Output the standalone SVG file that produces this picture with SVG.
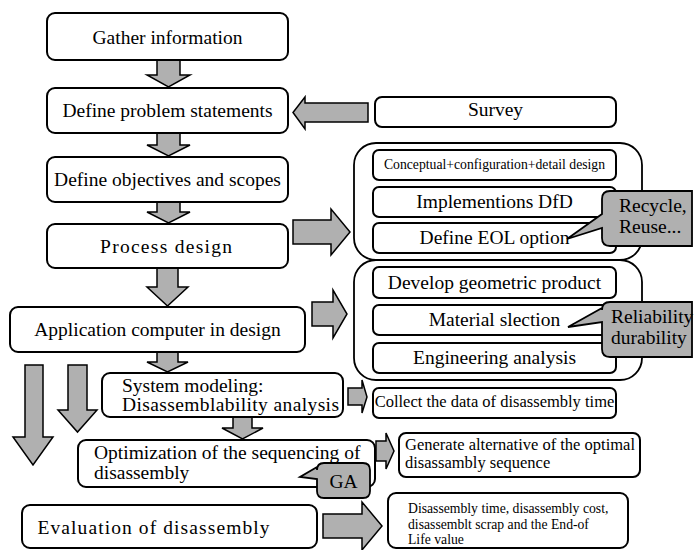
<svg xmlns="http://www.w3.org/2000/svg" width="694" height="550" viewBox="0 0 694 550">
  <style>
    .box { fill: #ffffff; stroke: #000000; stroke-width: 2; }
    .grp { fill: none; stroke: #000000; stroke-width: 1.8; }
    .arr { fill: #b0b0b0; stroke: #000000; stroke-width: 1.5; stroke-linejoin: miter; }
    .call { fill: #b0b0b0; stroke: #000000; stroke-width: 1.8; }
    .t { font-size: 19.5px; text-anchor: middle; }
    .tl { font-size: 19.5px; }
    .s { font-size: 16.5px; }
    .xs { font-size: 13.7px; }
  </style>
  <rect width="694" height="550" fill="#ffffff"/>

  <!-- block arrows -->
  <g id="connectors">
    <polygon class="arr" points="157,60 180,60 180,75 190,75 168.5,87 147,75 157,75"/>
    <polygon class="arr" points="157,133 180,133 180,145 190,145 168.5,156 147,145 157,145"/>
    <polygon class="arr" points="157,202 180,202 180,212 190,212 168.5,223 147,212 157,212"/>
    <polygon class="arr" points="157,268 178,268 178,287 188,287 167.5,306 147,287 157,287"/>
    <polygon class="arr" points="157,352 178,352 178,362 188,362 167.5,372 147,362 157,362"/>
    <polygon class="arr" points="233,417 252,417 252,428 263,428 242.5,439 222,428 233,428"/>
    <polygon class="arr" points="25,365 43,365 43,437 53,437 33,465 13,437 25,437"/>
    <polygon class="arr" points="68,365 87,365 87,410 97,410 77.5,432 58,410 68,410"/>
    <polygon class="arr" points="368,103 368,122 305,122 305,129 293,112.5 305,97 305,103"/>
    <polygon class="arr" points="293,220 331,220 331,209 350,232 331,255 331,244 293,244"/>
    <polygon class="arr" points="312,302 333,302 333,290 347,314 333,338 333,326 312,326"/>
    <polygon class="arr" points="348,388 362,388 362,380 367,397 362,413 362,405 348,405"/>
    <polygon class="arr" points="376,441 386,441 386,433 394,451 386,469 386,461 376,461"/>
    <polygon class="arr" points="323,514 362,514 362,502 382,526 362,550 362,538 323,538"/>
  </g>

  <g font-family="'Liberation Serif', 'DejaVu Serif', 'Times New Roman', serif" fill="#000000">
  <!-- main column -->
  <g id="gather">
    <rect class="box" x="47" y="13" width="241" height="47" rx="8"/>
    <text class="t" x="167.5" y="43.5">Gather information</text>
  </g>
  <g id="problem">
    <rect class="box" x="47" y="88" width="241" height="45" rx="8"/>
    <text class="t" x="167.5" y="117">Define problem statements</text>
  </g>
  <g id="objectives">
    <rect class="box" x="47" y="157" width="241" height="45" rx="8"/>
    <text class="t" x="167.5" y="186">Define objectives and scopes</text>
  </g>
  <g id="process">
    <rect class="box" x="47" y="224" width="241" height="44" rx="8"/>
    <text class="t" x="166" y="252.5" textLength="132" lengthAdjust="spacing">Process design</text>
  </g>
  <g id="application">
    <rect class="box" x="10" y="307" width="295" height="45" rx="8"/>
    <text class="t" x="157.5" y="336">Application computer in design</text>
  </g>
  <g id="modeling">
    <rect class="box" x="102" y="373" width="241" height="44" rx="8"/>
    <text class="tl" x="122" y="392">System modeling:</text>
    <text class="tl" x="122" y="411" textLength="217" lengthAdjust="spacing">Disassemblability analysis</text>
  </g>
  <g id="optimization">
    <rect class="box" x="78" y="440" width="297" height="47" rx="8"/>
    <text class="tl" x="94" y="459">Optimization of the sequencing of</text>
    <text class="tl" x="94" y="479">disassembly</text>
  </g>
  <g id="evaluation">
    <rect class="box" x="22" y="505" width="295" height="43" rx="8"/>
    <text class="t" x="153.5" y="534" textLength="232" lengthAdjust="spacing">Evaluation of disassembly</text>
  </g>

  <!-- right column -->
  <g id="survey">
    <rect class="box" x="375" y="97" width="241" height="30" rx="7"/>
    <text class="t" x="495.5" y="116">Survey</text>
  </g>

  <g id="design-group">
    <rect class="grp" x="354" y="143" width="288" height="117" rx="22"/>
    <g id="conceptual">
      <rect class="box" x="373" y="150" width="243" height="30" rx="6"/>
      <text class="xs" x="494.5" y="169" text-anchor="middle">Conceptual+configuration+detail design</text>
    </g>
    <g id="dfd">
      <rect class="box" x="373" y="187" width="243" height="30" rx="6"/>
      <text class="t" x="494.5" y="208">Implementions DfD</text>
    </g>
    <g id="eol">
      <rect class="box" x="373" y="223" width="243" height="30" rx="6"/>
      <text class="t" x="494.5" y="244">Define EOL option</text>
    </g>
  </g>

  <g id="cad-group">
    <rect class="grp" x="354" y="260" width="288" height="120" rx="22"/>
    <g id="geometric">
      <rect class="box" x="373" y="267" width="243" height="31" rx="6"/>
      <text class="t" x="494.5" y="289">Develop geometric product</text>
    </g>
    <g id="material">
      <rect class="box" x="373" y="305" width="243" height="30" rx="6"/>
      <text class="t" x="494.5" y="326">Material slection</text>
    </g>
    <g id="engineering">
      <rect class="box" x="373" y="343" width="243" height="30" rx="6"/>
      <text class="t" x="494.5" y="364">Engineering analysis</text>
    </g>
  </g>

  <g id="collect">
    <rect class="box" x="373" y="388" width="243" height="30" rx="6"/>
    <text class="s" x="494.5" y="407" text-anchor="middle">Collect the data of disassembly time</text>
  </g>
  <g id="generate">
    <rect class="box" x="399" y="433" width="241" height="44" rx="7"/>
    <text class="s" x="405" y="450">Generate alternative of the optimal</text>
    <text class="s" x="405" y="468">disassambly sequence</text>
  </g>
  <g id="results">
    <rect class="box" x="388" y="493" width="240" height="55" rx="8"/>
    <text class="xs" x="408" y="513">Disassembly time, disassembly cost,</text>
    <text class="xs" x="408" y="529">disassemblt scrap and the End-of</text>
    <text class="xs" x="408" y="544">Life value</text>
  </g>

  <!-- callouts -->
  <g id="recycle">
    <path class="call" d="M610,191 H692 V246 H610 Q602,246 602,238 V228 L567,239 L602,214 V199 Q602,191 610,191 Z"/>
    <text class="tl" x="619" y="212">Recycle,</text>
    <text class="tl" x="619" y="233">Reuse...</text>
  </g>
  <g id="reliability">
    <path class="call" d="M610,302 H692 V357 H610 Q602,357 602,349 V322 L568,327 L602,308 V310 Q602,302 610,302 Z"/>
    <text class="tl" x="611" y="323">Reliability</text>
    <text class="tl" x="611" y="344">durability</text>
  </g>
  <g id="ga">
    <path class="call" d="M324,463 H363 Q370,463 370,470 V491 Q370,498 363,498 H324 Q317,498 317,491 V479 L300,477 L317,467 V470 Q317,463 324,463 Z"/>
    <text class="t" x="343.5" y="488">GA</text>
  </g>
  </g>
</svg>
